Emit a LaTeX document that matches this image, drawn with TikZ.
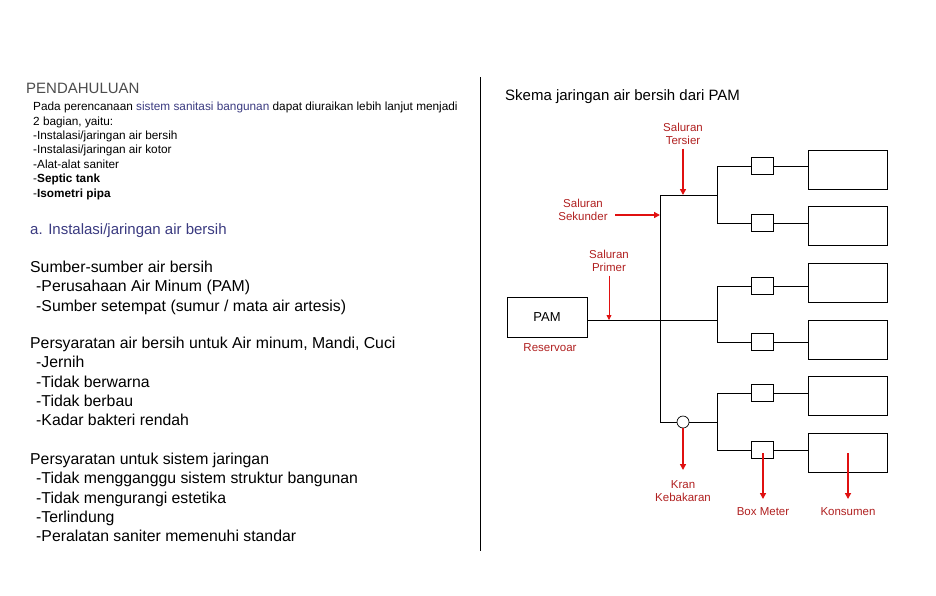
\documentclass[tikz,border=0pt]{standalone}
\usepackage{fontspec}
\setmainfont{Liberation Sans}
\usetikzlibrary{arrows.meta}
\definecolor{rd}{HTML}{E01010}
\definecolor{rtxt}{HTML}{B02020}
\definecolor{hd}{HTML}{3A3A80}
\begin{document}
\begin{tikzpicture}[x=1pt,y=-1pt,
 ln/.style={line width=0.8pt},
 bx/.style={draw,line width=0.8pt,minimum width=#1,inner sep=0pt},
 ra/.style={rd,line width=1.6pt,-{Triangle[length=6pt,width=6pt]}},
 rl/.style={font=\fontsize{11.5}{13.5}\selectfont,text=rtxt,align=center},
 tx/.style={anchor=west,inner sep=0pt}]
\useasboundingbox (0,0) rectangle (936,595);
% left text
\node[tx,text=black!70,font=\fontsize{15}{17}\selectfont] (t0) at (26,88) {PENDAHULUAN};
\node[anchor=north west,inner sep=0pt,align=left,font=\fontsize{11.8}{14.4}\selectfont] (t1) at (33,102)
{Pada perencanaan \textcolor{hd}{sistem sanitasi bangunan} dapat diuraikan lebih lanjut menjadi\\
2 bagian, yaitu:\\-Instalasi/jaringan air bersih\\-Instalasi/jaringan air kotor\\-Alat-alat saniter\\
-\textbf{Septic tank}\\-\textbf{Isometri pipa}};
\node[tx,text=hd,font=\fontsize{15}{17}\selectfont] (t2) at (30,231) {a. Instalasi/jaringan air bersih};
\node[anchor=north west,inner sep=0pt,align=left,font=\fontsize{15.8}{19.3}\selectfont] (t3) at (30,261)
{Sumber-sumber air bersih\\\hspace*{6pt}-Perusahaan Air Minum (PAM)\\\hspace*{6pt}-Sumber setempat (sumur / mata air artesis)};
\node[anchor=north west,inner sep=0pt,align=left,font=\fontsize{15.8}{19.3}\selectfont] (t4) at (30,337)
{Persyaratan air bersih untuk Air minum, Mandi, Cuci\\\hspace*{6pt}-Jernih\\\hspace*{6pt}-Tidak berwarna\\\hspace*{6pt}-Tidak berbau\\\hspace*{6pt}-Kadar bakteri rendah};
\node[anchor=north west,inner sep=0pt,align=left,font=\fontsize{15.8}{19.3}\selectfont] (t5) at (30,453)
{Persyaratan untuk sistem jaringan\\\hspace*{6pt}-Tidak mengganggu sistem struktur bangunan\\\hspace*{6pt}-Tidak mengurangi estetika\\\hspace*{6pt}-Terlindung\\\hspace*{6pt}-Peralatan saniter memenuhi standar};
\coordinate (d1) at (480,77); \coordinate (d2) at (480,551);
\draw[line width=1pt] (d1)--(d2);
\node[tx,font=\fontsize{15}{17}\selectfont] (title) at (505,97) {Skema jaringan air bersih dari PAM};
% diagram
\node[bx=80pt,minimum height=40pt,font=\fontsize{13}{15}\selectfont] (pam) at (547,317) {PAM};
\coordinate (j0) at (660,320); \coordinate (jt) at (660,195); \coordinate (jb) at (660,422);
\coordinate (b1) at (717,195); \coordinate (b2) at (717,320); \coordinate (b3) at (717,422);
\draw[ln] (pam.east |- j0) -- (b2);
\draw[ln] (jt) -- (jb);
\draw[ln] (jt) -- (b1);
\node[draw,circle,minimum size=12pt,inner sep=0pt,line width=0.7pt] (valve) at (683,422) {};
\draw[ln] (jb) -- (valve.west); \draw[ln] (valve.east) -- (b3);
\foreach \i/\y/\by in {1/166/170, 2/223/226, 3/286/283, 4/342/340, 5/393/396, 6/450/453}{
  \node[bx=22pt,minimum height=17pt] (m\i) at (762,\y) {};
  \node[bx=79pt,minimum height=39pt] (k\i) at (847.5,\by) {};
  \coordinate (v\i) at (717,\y);
  \draw[ln] (v\i) -- (m\i.west);
  \draw[ln] (m\i.east) -- (k\i.west |- m\i.east);
}
\draw[ln] (v1)--(v2); \draw[ln] (v3)--(v4); \draw[ln] (v5)--(v6);
% labels and arrows
\node[rl] (lt) at (683,134) {Saluran\\Tersier};
\draw[ra] (lt.south) -- (683,195);
\node[rl] (ls) at (583,210) {Saluran\\Sekunder};
\coordinate (se) at (660,215);
\draw[ra] (615,215) -- (se);
\node[rl] (lp) at (609,261) {Saluran\\Primer};
\draw[rd,line width=0.8pt,-{Triangle[length=5pt,width=5pt]}] (lp.south) -- (609,320);
\node[rl] (lr) at (550,348) {Reservoar};
\node[rl] (lk) at (683,491) {Kran\\Kebakaran};
\draw[ra] (valve.south) -- (683,470);
\node[rl] (lb) at (763,512) {Box Meter};
\coordinate (bm) at (763,453);
\draw[ra] (bm) -- (763,499);
\node[rl] (lc) at (848,512) {Konsumen};
\draw[ra] (848,453) -- (848,499);
\end{tikzpicture}
\end{document}
